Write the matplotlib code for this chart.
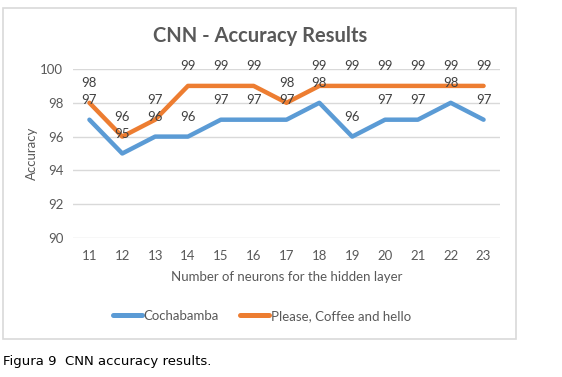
import matplotlib.pyplot as plt
from matplotlib.patches import Rectangle

# data
neurons = ["11", "12", "13", "14", "15", "16", "17", "18", "19", "20", "21", "22", "23"]
cochabamba = [97, 95, 96, 96, 97, 97, 97, 98, 96, 97, 97, 98, 97]
please_coffee_hello = [98, 96, 97, 99, 99, 99, 98, 99, 99, 99, 99, 99, 99]
y_ticks = [90, 92, 94, 96, 98, 100]

W, H = 562, 377
BLUE = "#5B9BD5"
ORANGE = "#ED7D31"
TXT = "#595959"
GRID = "#D9D9D9"

plt.rcParams.update({"font.family": ["Lato", "DejaVu Sans"]})

fig = plt.figure(figsize=(W / 100, H / 100), dpi=100)
fig.patch.set_facecolor("white")

# chart frame (pixel coords -> figure fraction)
def px(x0, y0, x1, y1):
    return [x0 / W, 1 - y1 / H, (x1 - x0) / W, (y1 - y0) / H]

fig.patches.append(Rectangle((3 / W, 1 - 339 / H), 513 / W, 331 / H,
                             transform=fig.transFigure, fill=False,
                             edgecolor=GRID, linewidth=1.2))

ax = fig.add_axes(px(73, 69, 500, 238))
x = list(range(len(neurons)))
ax.plot(x, cochabamba, color=BLUE, lw=3.2, solid_joinstyle="round",
        solid_capstyle="round", label="Cochabamba", zorder=3)
ax.plot(x, please_coffee_hello, color=ORANGE, lw=3.2, solid_joinstyle="round",
        solid_capstyle="round", label="Please, Coffee and hello", zorder=3)

for xi, v in zip(x, cochabamba):
    ax.annotate(str(v), (xi, v), xytext=(0, 14), textcoords="offset points",
                ha="center", va="center", fontsize=9.5, color="#404040", zorder=4)
for xi, v in zip(x, please_coffee_hello):
    ax.annotate(str(v), (xi, v), xytext=(0, 14), textcoords="offset points",
                ha="center", va="center", fontsize=9.5, color="#404040", zorder=4)

ax.set_xlim(-0.5, len(neurons) - 0.5)
ax.set_ylim(90, 100)
ax.set_yticks(y_ticks)
ax.set_xticks(x, neurons)
ax.grid(axis="y", color=GRID, linewidth=1)
ax.set_axisbelow(True)
for s in ax.spines.values():
    s.set_visible(False)
ax.tick_params(length=0, colors=TXT, labelsize=9.5)
ax.tick_params(axis="x", pad=9)
ax.tick_params(axis="y", pad=7)

ax.set_xlabel("Number of neurons for the hidden layer", color=TXT, fontsize=9.5, labelpad=6)
ax.set_ylabel("Accuracy", color=TXT, fontsize=9.5, labelpad=2)

fig.text(260 / W, 1 - 36 / H, "CNN - Accuracy Results", ha="center", va="center",
         fontsize=14.5, fontweight="bold", color=TXT)

leg = fig.legend(loc="center", bbox_to_anchor=(262 / W, 1 - 316 / H), ncol=2,
                 frameon=False, fontsize=9.5, handlelength=2.2, handletextpad=0.1,
                 columnspacing=1.6)
for line in leg.get_lines():
    line.set_linewidth(3.6)
for t in leg.get_texts():
    t.set_color(TXT)

fig.text(3 / W, 1 - 362 / H, "Figura 9", ha="left", va="center", fontsize=9.5,
         color="black", family=["DejaVu Sans"])
fig.text(65 / W, 1 - 362 / H, "CNN accuracy results.", ha="left", va="center",
         fontsize=9.5, color="black", family=["DejaVu Sans"])

fig.savefig("out.png", dpi=100)
